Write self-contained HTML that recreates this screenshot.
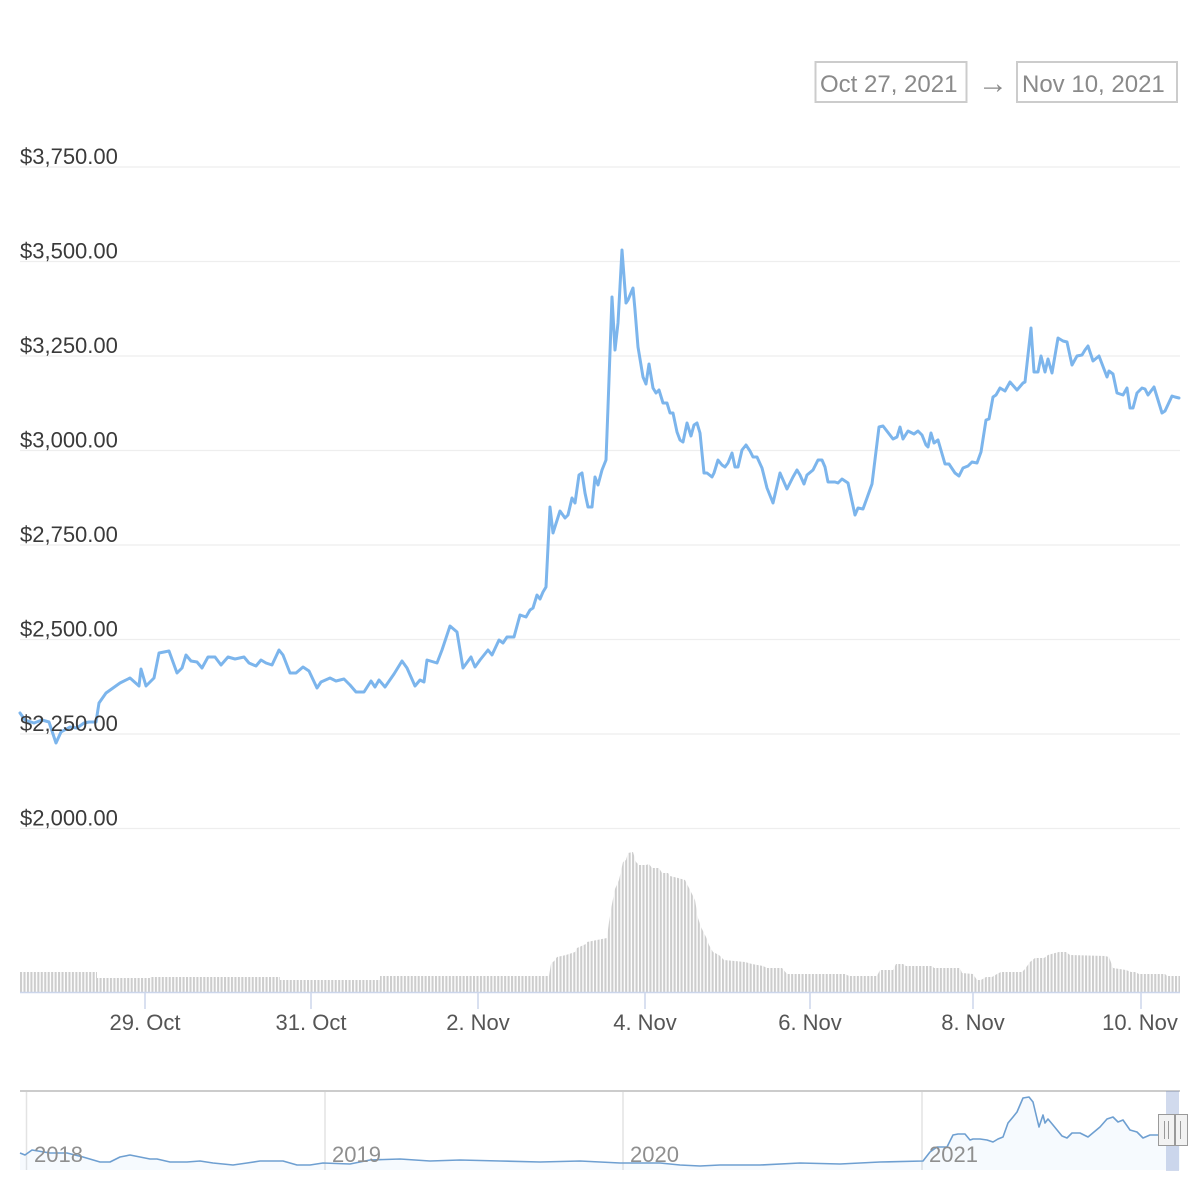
<!DOCTYPE html>
<html>
<head>
<meta charset="utf-8">
<style>
html,body{margin:0;padding:0;background:#fff;}
svg{display:block;}
text{font-family:"Liberation Sans",Arial,sans-serif;}
</style>
</head>
<body>
<svg width="1200" height="1200" viewBox="0 0 1200 1200" xmlns="http://www.w3.org/2000/svg">
<defs>
<pattern id="bars" patternUnits="userSpaceOnUse" x="20" y="0" width="3.458" height="20">
<rect x="0" y="0" width="2.1" height="20" fill="#cdcdcd"/>
</pattern>
</defs>
<rect width="1200" height="1200" fill="#fff"/>

<!-- date range -->
<rect x="815.5" y="62" width="151" height="40" fill="#fff" stroke="#cccccc" stroke-width="2"/>
<text x="820" y="92" font-size="24" fill="#8a8a8a">Oct 27, 2021</text>
<text x="978" y="93" font-size="30" fill="#8a8a8a">→</text>
<rect x="1017" y="62" width="160" height="40" fill="#fff" stroke="#cccccc" stroke-width="2"/>
<text x="1022" y="92" font-size="24" fill="#8a8a8a">Nov 10, 2021</text>

<!-- gridlines -->
<g stroke="#eeeeee" stroke-width="1.2">
<line x1="20" x2="1180" y1="167" y2="167"/>
<line x1="20" x2="1180" y1="261.5" y2="261.5"/>
<line x1="20" x2="1180" y1="356" y2="356"/>
<line x1="20" x2="1180" y1="450.5" y2="450.5"/>
<line x1="20" x2="1180" y1="545" y2="545"/>
<line x1="20" x2="1180" y1="639.5" y2="639.5"/>
<line x1="20" x2="1180" y1="734" y2="734"/>
<line x1="20" x2="1180" y1="828.5" y2="828.5"/>
</g>

<!-- volume -->
<polygon fill="url(#bars)" points="20,992 20,972 97,972 97,978 150,978 150,977 280,977 280,980 380,980 380,976 549,976 551,964 555,960 557,957 566,955 575,952 577,948 586,944 587,942 597,940 607,938 609,922 612,904 615,889 619,880 623,862 626,860 628,853 633,852 636,862 639,865 646,865 649,864 652,868 659,868 662,873 668,873 670,876 678,878 685,880 690,890 695,900 698,918 701,927 706,937 709,945 713,952 719,955 724,960 745,962 752,964 763,966 767,968 782,968 787,974 845,974 849,976 877,976 880,970 893,970 896,964 903,964 906,966 932,966 934,968 960,968 962,973 973,974 977,980 981,980 986,977 992,977 997,974 1001,972 1022,972 1025,969 1030,962 1035,958 1044,958 1048,955 1055,953 1059,952 1066,952 1070,955 1105,956 1109,957 1113,968 1126,970 1131,972 1135,972 1139,974 1165,974 1167,976 1180,976 1180,992"/>

<!-- x axis -->
<line x1="20" x2="1180" y1="992.5" y2="992.5" stroke="#ccd6eb" stroke-width="1.5"/>
<g stroke="#ccd6eb" stroke-width="1.5">
<line x1="145" x2="145" y1="992" y2="1009"/>
<line x1="311" x2="311" y1="992" y2="1009"/>
<line x1="478" x2="478" y1="992" y2="1009"/>
<line x1="645" x2="645" y1="992" y2="1009"/>
<line x1="810" x2="810" y1="992" y2="1009"/>
<line x1="973" x2="973" y1="992" y2="1009"/>
<line x1="1141" x2="1141" y1="992" y2="1009"/>
</g>
<g font-size="22" fill="#555" text-anchor="middle">
<text x="145" y="1030">29. Oct</text>
<text x="311" y="1030">31. Oct</text>
<text x="478" y="1030">2. Nov</text>
<text x="645" y="1030">4. Nov</text>
<text x="810" y="1030">6. Nov</text>
<text x="973" y="1030">8. Nov</text>
<text x="1140" y="1030">10. Nov</text>
</g>

<!-- price line -->
<polyline fill="none" stroke="#7cb5ec" stroke-width="3" stroke-linejoin="round" stroke-linecap="round" points="20,713 25,720 34,723 42,720 49,722 56,743 61,732 70,727 77,728 84,723 89,722 96,722 99,703 106,693 120,683 130,678 139,686 141,669 146,686 154,678 159,653 169,651 177,673 182,668 186,655 191,661 197,662 202,668 208,657 215,657 221,665 228,657 235,659 244,657 249,663 256,666 261,660 266,663 272,665 279,650 283,655 290,673 296,673 303,667 309,671 317,688 321,682 330,678 336,681 344,679 350,685 356,692 364,692 371,681 375,687 379,680 385,687 394,674 402,661 407,668 415,686 420,680 424,682 427,660 437,663 442,650 450,626 457,632 463,668 471,657 475,667 480,660 488,650 492,655 499,640 503,643 507,637 514,637 520,615 526,617 530,610 533,608 537,595 540,599 543,592 546,587 550,507 553,533 560,511 565,518 568,515 572,498 575,503 579,475 582,473 585,493 588,507 592,507 595,477 598,485 602,470 606,460 608,407 612,297 615,350 618,323 622,250 626,303 628,300 633,288 635,310 638,347 643,377 646,384 649,364 653,388 656,393 659,390 663,403 667,403 670,413 673,413 677,432 680,440 683,442 687,423 691,436 694,425 697,423 700,433 704,473 707,473 712,477 714,473 718,460 722,465 725,467 728,463 732,453 735,467 738,467 742,450 746,445 750,451 753,457 757,457 762,468 767,488 773,503 780,473 787,489 793,477 797,470 800,475 804,484 807,475 813,470 818,460 822,460 825,467 828,482 835,482 838,483 842,479 848,483 855,515 858,508 863,509 867,498 872,484 879,427 883,426 893,439 897,437 900,427 903,439 908,431 914,434 918,431 922,435 926,445 928,447 931,433 934,443 938,440 945,464 949,464 955,473 959,476 963,468 968,466 972,462 977,463 981,452 986,420 989,419 993,397 996,395 1000,388 1005,391 1010,382 1017,390 1023,383 1025,382 1031,328 1034,372 1038,372 1041,356 1045,372 1048,359 1052,373 1058,338 1063,341 1067,342 1072,365 1077,356 1082,355 1085,350 1088,346 1093,361 1099,356 1107,377 1109,371 1113,374 1117,393 1123,395 1127,388 1130,408 1133,408 1137,393 1142,388 1145,389 1148,395 1154,387 1162,413 1165,411 1172,396 1175,397 1179,398"/>

<!-- y labels -->
<g font-size="22" fill="#3a3a3a">
<text x="20" y="164">$3,750.00</text>
<text x="20" y="258.5">$3,500.00</text>
<text x="20" y="353">$3,250.00</text>
<text x="20" y="447.5">$3,000.00</text>
<text x="20" y="542">$2,750.00</text>
<text x="20" y="636.5">$2,500.00</text>
<text x="20" y="731">$2,250.00</text>
<text x="20" y="825.5">$2,000.00</text>
</g>

<!-- navigator -->
<g stroke="#e3e3e3" stroke-width="1.5">
<line x1="26.5" x2="26.5" y1="1090" y2="1170"/>
<line x1="325" x2="325" y1="1090" y2="1170"/>
<line x1="623" x2="623" y1="1090" y2="1170"/>
<line x1="922" x2="922" y1="1090" y2="1170"/>
</g>
<polygon fill="#7cb5ec" fill-opacity="0.07" points="20,1170 20,1153 25,1155 32,1150 50,1153 67,1153 83,1157 100,1162 110,1162 120,1157 130,1155 140,1157 150,1159 157,1159 170,1162 187,1162 200,1161 213,1163 233,1165 247,1163 260,1161 283,1161 297,1165 310,1165 323,1163 350,1164 360,1162 370,1160 400,1159 430,1161 460,1160 500,1161 540,1162 580,1161 620,1163 660,1163 680,1165 700,1166 720,1165 760,1165 800,1163 840,1164 880,1162 923,1161 930,1152 937,1147 947,1147 953,1135 958,1134 965,1134 970,1140 973,1139 980,1139 987,1140 993,1142 998,1139 1003,1137 1008,1123 1013,1117 1017,1112 1023,1098 1029,1097 1033,1102 1039,1127 1043,1115 1045,1123 1048,1119 1053,1125 1062,1136 1067,1138 1072,1133 1080,1133 1088,1137 1100,1127 1107,1119 1113,1117 1118,1122 1123,1120 1130,1130 1137,1132 1143,1138 1150,1135 1158,1135 1180,1136 1180,1170"/>
<polyline fill="none" stroke="#6e9fd1" stroke-width="1.6" stroke-linejoin="round" points="20,1153 25,1155 32,1150 50,1153 67,1153 83,1157 100,1162 110,1162 120,1157 130,1155 140,1157 150,1159 157,1159 170,1162 187,1162 200,1161 213,1163 233,1165 247,1163 260,1161 283,1161 297,1165 310,1165 323,1163 350,1164 360,1162 370,1160 400,1159 430,1161 460,1160 500,1161 540,1162 580,1161 620,1163 660,1163 680,1165 700,1166 720,1165 760,1165 800,1163 840,1164 880,1162 923,1161 930,1152 937,1147 947,1147 953,1135 958,1134 965,1134 970,1140 973,1139 980,1139 987,1140 993,1142 998,1139 1003,1137 1008,1123 1013,1117 1017,1112 1023,1098 1029,1097 1033,1102 1039,1127 1043,1115 1045,1123 1048,1119 1053,1125 1062,1136 1067,1138 1072,1133 1080,1133 1088,1137 1100,1127 1107,1119 1113,1117 1118,1122 1123,1120 1130,1130 1137,1132 1143,1138 1150,1135 1158,1135 1180,1136"/>
<line x1="20" x2="1180" y1="1091" y2="1091" stroke="#cccccc" stroke-width="2"/>
<g font-size="22" fill="#8f8f8f">
<text x="34" y="1162">2018</text>
<text x="332" y="1162">2019</text>
<text x="630" y="1162">2020</text>
<text x="929" y="1162">2021</text>
</g>
<rect x="1166" y="1091" width="13" height="80" fill="#6685c2" fill-opacity="0.3"/>
<rect x="1158.5" y="1114.5" width="16" height="31" fill="#f2f2f2" stroke="#9a9a9a" stroke-width="1"/>
<line x1="1164.5" x2="1164.5" y1="1121" y2="1139" stroke="#9a9a9a"/>
<line x1="1168.5" x2="1168.5" y1="1121" y2="1139" stroke="#9a9a9a"/>
<rect x="1175.5" y="1114.5" width="12" height="31" fill="#f2f2f2" stroke="#9a9a9a" stroke-width="1"/>
<line x1="1180.5" x2="1180.5" y1="1121" y2="1139" stroke="#9a9a9a"/>
</svg>
</body>
</html>
